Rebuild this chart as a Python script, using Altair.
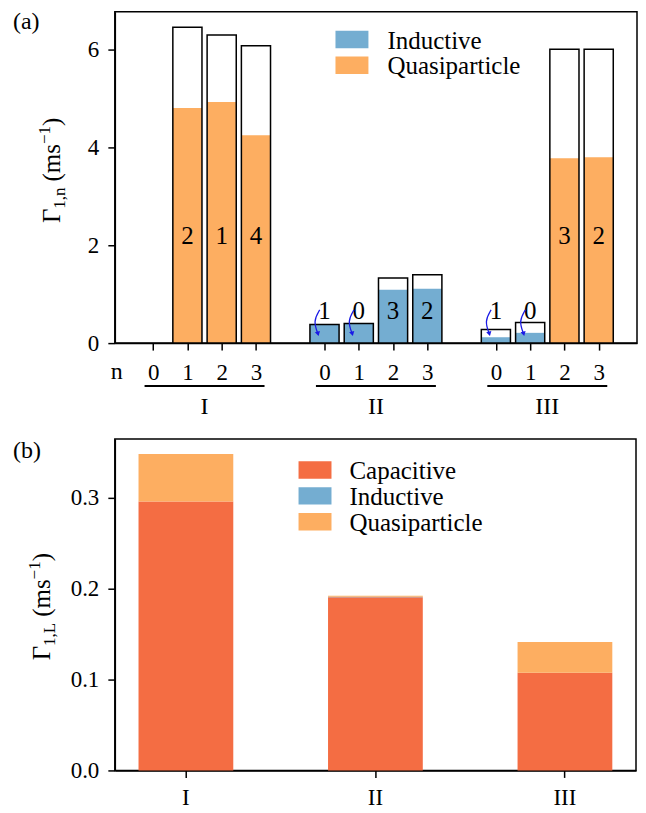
import altair as alt
import pandas as pd

FONT = "Liberation Serif"
C_CAP = "#f46d43"
C_IND = "#74add1"
C_QP = "#fdae61"
ARROW = "#1a1ae6"

# ---------------- panel (a) data ----------------
positions = [0, 1, 2, 3, 5, 6, 7, 8, 10, 11, 12, 13]
totals = [0.0, 6.46, 6.30, 6.08, 0.38, 0.40, 1.33, 1.40, 0.28, 0.42, 6.01, 6.01]
parts = [0.0, 4.81, 4.93, 4.25, 0.38, 0.40, 1.09, 1.11, 0.12, 0.21, 3.78, 3.80]
part_type = ["Quasiparticle"] * 4 + ["Inductive"] * 4 + ["Inductive", "Inductive", "Quasiparticle", "Quasiparticle"]
bar_labels = ["", "2", "1", "4", "1", "0", "3", "2", "1", "0", "3", "2"]
label_y = [0.0, 2.2, 2.2, 2.2, 0.65, 0.65, 0.65, 0.65, 0.65, 0.65, 2.2, 2.2]
arrow_bars = [5, 6, 10, 11]
arrow_dx = [-0.14, -0.33, -0.19]
arrow_y = [0.68, 0.45, 0.19]
group_names = ["I", "II", "III"]
group_starts = [0, 5, 10]
legend_a = ["Inductive", "Quasiparticle"]
legend_a_colors = [C_IND, C_QP]

# ---------------- panel (b) data ----------------
groups_b = ["I", "II", "III"]
capacitive = [0.2957, 0.1905, 0.1074]
inductive = [0.0, 0.0006, 0.0]
quasiparticle = [0.0523, 0.0009, 0.0337]
types_b = ["Capacitive", "Inductive", "Quasiparticle"]
colors_b = [C_CAP, C_IND, C_QP]

BAR_W = 0.85

df_a = pd.DataFrame({
    "pos": positions, "total": totals, "part": parts, "ptype": part_type,
    "label": bar_labels, "ly": label_y,
})
df_a["x0"] = df_a["pos"] - BAR_W / 2
df_a["x1"] = df_a["pos"] + BAR_W / 2
df_a["base"] = 0.0

arrow_rows = []
for k, p in enumerate(arrow_bars):
    for j, (dx, yy) in enumerate(zip(arrow_dx, arrow_y)):
        arrow_rows.append({"arrow": k, "ord": j, "ax": p + dx, "ay": yy})
df_arrow = pd.DataFrame(arrow_rows)
df_head = df_arrow[df_arrow["ord"] == len(arrow_dx) - 1]

df_groups = pd.DataFrame({"g": group_names, "start": group_starts})
df_groups["g0"] = df_groups["start"] - 0.25
df_groups["g1"] = df_groups["start"] + 3.25
df_groups["gc"] = df_groups["start"] + 1.5

one = pd.DataFrame({"k": [0]})

W, H = 523, 332
xs_a = alt.Scale(domain=[-1.1175, 14.1175], nice=False, zero=False)
ys_a = alt.Scale(domain=[0, 6.78], nice=False)

adv = {"Γ": 0.578, "1": 0.5, ",": 0.25, "n": 0.5, "L": 0.611, "(": 0.333,
       "m": 0.778, "s": 0.389, "−": 0.564, ")": 0.333, " ": 0.25}


def rot_title(pieces, y_center, base_x):
    widths = [gap + sum(adv.get(c, 0.5) for c in t) * s for (t, s, sh, gap) in pieces]
    total = sum(widths)
    y = y_center + total / 2
    layers = []
    for (t, s, sh, gap), w in zip(pieces, widths):
        y -= gap
        layers.append(
            alt.Chart(one).mark_text(angle=270, align="left", baseline="alphabetic",
                                     font=FONT, fontSize=s, color="black")
            .encode(x=alt.value(base_x + sh), y=alt.value(y), text=alt.value(t))
        )
        y -= (w - gap)
    return layers


def manual_legend(labels, colors, x0, x1, tx, y_first, step, sw_h=17.5):
    layers = []
    for i, (lab, col) in enumerate(zip(labels, colors)):
        yc = y_first + i * step
        layers.append(alt.Chart(one).mark_rect(color=col).encode(
            x=alt.value(x0), x2=alt.value(x1),
            y=alt.value(yc - sw_h / 2), y2=alt.value(yc + sw_h / 2)))
        layers.append(alt.Chart(one).mark_text(align="left", baseline="middle", font=FONT,
                                                fontSize=25, color="black")
                      .encode(x=alt.value(tx), y=alt.value(yc + 1), text=alt.value(lab)))
    return layers


base_a = alt.Chart(df_a)
x_enc = alt.X("x0:Q", scale=xs_a,
              axis=alt.Axis(values=positions, labelExpr="datum.value % 5", title=None,
                            labelPadding=11))
parts_layer = base_a.transform_filter("datum.part > 0").mark_bar().encode(
    x=x_enc, x2="x1:Q",
    y=alt.Y("part:Q", scale=ys_a, axis=alt.Axis(values=[0, 2, 4, 6], title=None, labelPadding=9)),
    y2="base:Q",
    color=alt.Color("ptype:N", scale=alt.Scale(domain=legend_a, range=legend_a_colors), legend=None),
)
outline_layer = base_a.transform_filter("datum.total > 0").mark_bar(
    fill="white", fillOpacity=0, stroke="black", strokeWidth=1.5).encode(
    x=alt.X("x0:Q", scale=xs_a), x2="x1:Q", y=alt.Y("total:Q", scale=ys_a), y2="base:Q")
labels_layer = base_a.transform_filter("datum.label != ''").mark_text(
    font=FONT, fontSize=25, color="black", baseline="middle").encode(
    x=alt.X("pos:Q", scale=xs_a), y=alt.Y("ly:Q", scale=ys_a), text="label:N")
arrow_layer = alt.Chart(df_arrow).mark_line(color=ARROW, strokeWidth=1.3, interpolate="basis").encode(
    x=alt.X("ax:Q", scale=xs_a), y=alt.Y("ay:Q", scale=ys_a), detail="arrow:N", order="ord:Q")
head_layer = alt.Chart(df_head).mark_point(shape="triangle-down", filled=True, color=ARROW,
                                           size=28, opacity=1, angle=345).encode(
    x=alt.X("ax:Q", scale=xs_a), y=alt.Y("ay:Q", scale=ys_a))
under_layer = alt.Chart(df_groups).mark_rule(color="black", strokeWidth=2).encode(
    x=alt.X("g0:Q", scale=xs_a), x2="g1:Q", y=alt.value(H + 43))
glabel_layer = alt.Chart(df_groups).mark_text(font=FONT, fontSize=24, color="black",
                                              baseline="middle").encode(
    x=alt.X("gc:Q", scale=xs_a), y=alt.value(H + 64), text="g:N")
n_layer = alt.Chart(one).mark_text(font=FONT, fontSize=24, color="black", baseline="middle").encode(
    x=alt.value(2), y=alt.value(H + 29), text=alt.value("n"))
tag_a = alt.Chart(one).mark_text(font=FONT, fontSize=24, color="black", baseline="top",
                                 align="left").encode(
    x=alt.value(-102), y=alt.value(-2), text=alt.value("(a)"))

title_a = rot_title([("Γ", 25, 0, 0), ("1,n", 17, 5, 0), ("(ms", 25, 0, 6),
                     ("−1", 17, -10, 0), (")", 25, 0, 0)], 159, -55)
leg_a = manual_legend(legend_a, legend_a_colors, 221, 254, 273, 28, 25.7)

top = alt.layer(parts_layer, outline_layer, labels_layer, arrow_layer, head_layer,
                under_layer, glabel_layer, n_layer, tag_a, *title_a, *leg_a).properties(
    width=W, height=H)

# ---------------- panel (b) ----------------
rows_b = []
for i, g in enumerate(groups_b):
    for j, (t, v) in enumerate(zip(types_b, [capacitive[i], inductive[i], quasiparticle[i]])):
        rows_b.append({"group": g, "type": t, "value": v, "ord": j})
df_b = pd.DataFrame(rows_b)

bars_b = alt.Chart(df_b).mark_bar().encode(
    x=alt.X("group:N", sort=groups_b,
            scale=alt.Scale(paddingInner=0.5, paddingOuter=0.125),
            axis=alt.Axis(labelAngle=0, title=None, labelPadding=9)),
    y=alt.Y("value:Q", stack="zero", scale=alt.Scale(domain=[0, 0.3645], nice=False),
            axis=alt.Axis(values=[0, 0.1, 0.2, 0.3], format=".1f", title=None, labelPadding=9)),
    color=alt.Color("type:N", scale=alt.Scale(domain=types_b, range=colors_b), legend=None),
    order=alt.Order("ord:Q"),
)
tag_b = alt.Chart(one).mark_text(font=FONT, fontSize=24, color="black", baseline="top",
                                 align="left").encode(
    x=alt.value(-102), y=alt.value(0), text=alt.value("(b)"))
title_b = rot_title([("Γ", 25, 0, 0), ("1,L", 17, 5, 0), ("(ms", 25, 0, 6),
                     ("−1", 17, -10, 0), (")", 25, 0, 0)], 168, -65)
leg_b = manual_legend(types_b, colors_b, 184, 217, 235, 31, 26)

bottom = alt.layer(bars_b, tag_b, *title_b, *leg_b).properties(width=522, height=H)

chart = alt.vconcat(top, bottom, spacing=18).resolve_scale(
    color="independent"
).properties(
    padding={"left": 4, "top": 0, "right": 0, "bottom": 0}
).configure_view(
    stroke="black", strokeWidth=1.5
).configure_axis(
    domainColor="black", domainWidth=1.5, tickColor="black", tickWidth=1.5, tickSize=7,
    labelFont=FONT, labelFontSize=23, labelColor="black", grid=False,
)

chart.save("out.html", embed_options={"renderer": "svg", "actions": False})
